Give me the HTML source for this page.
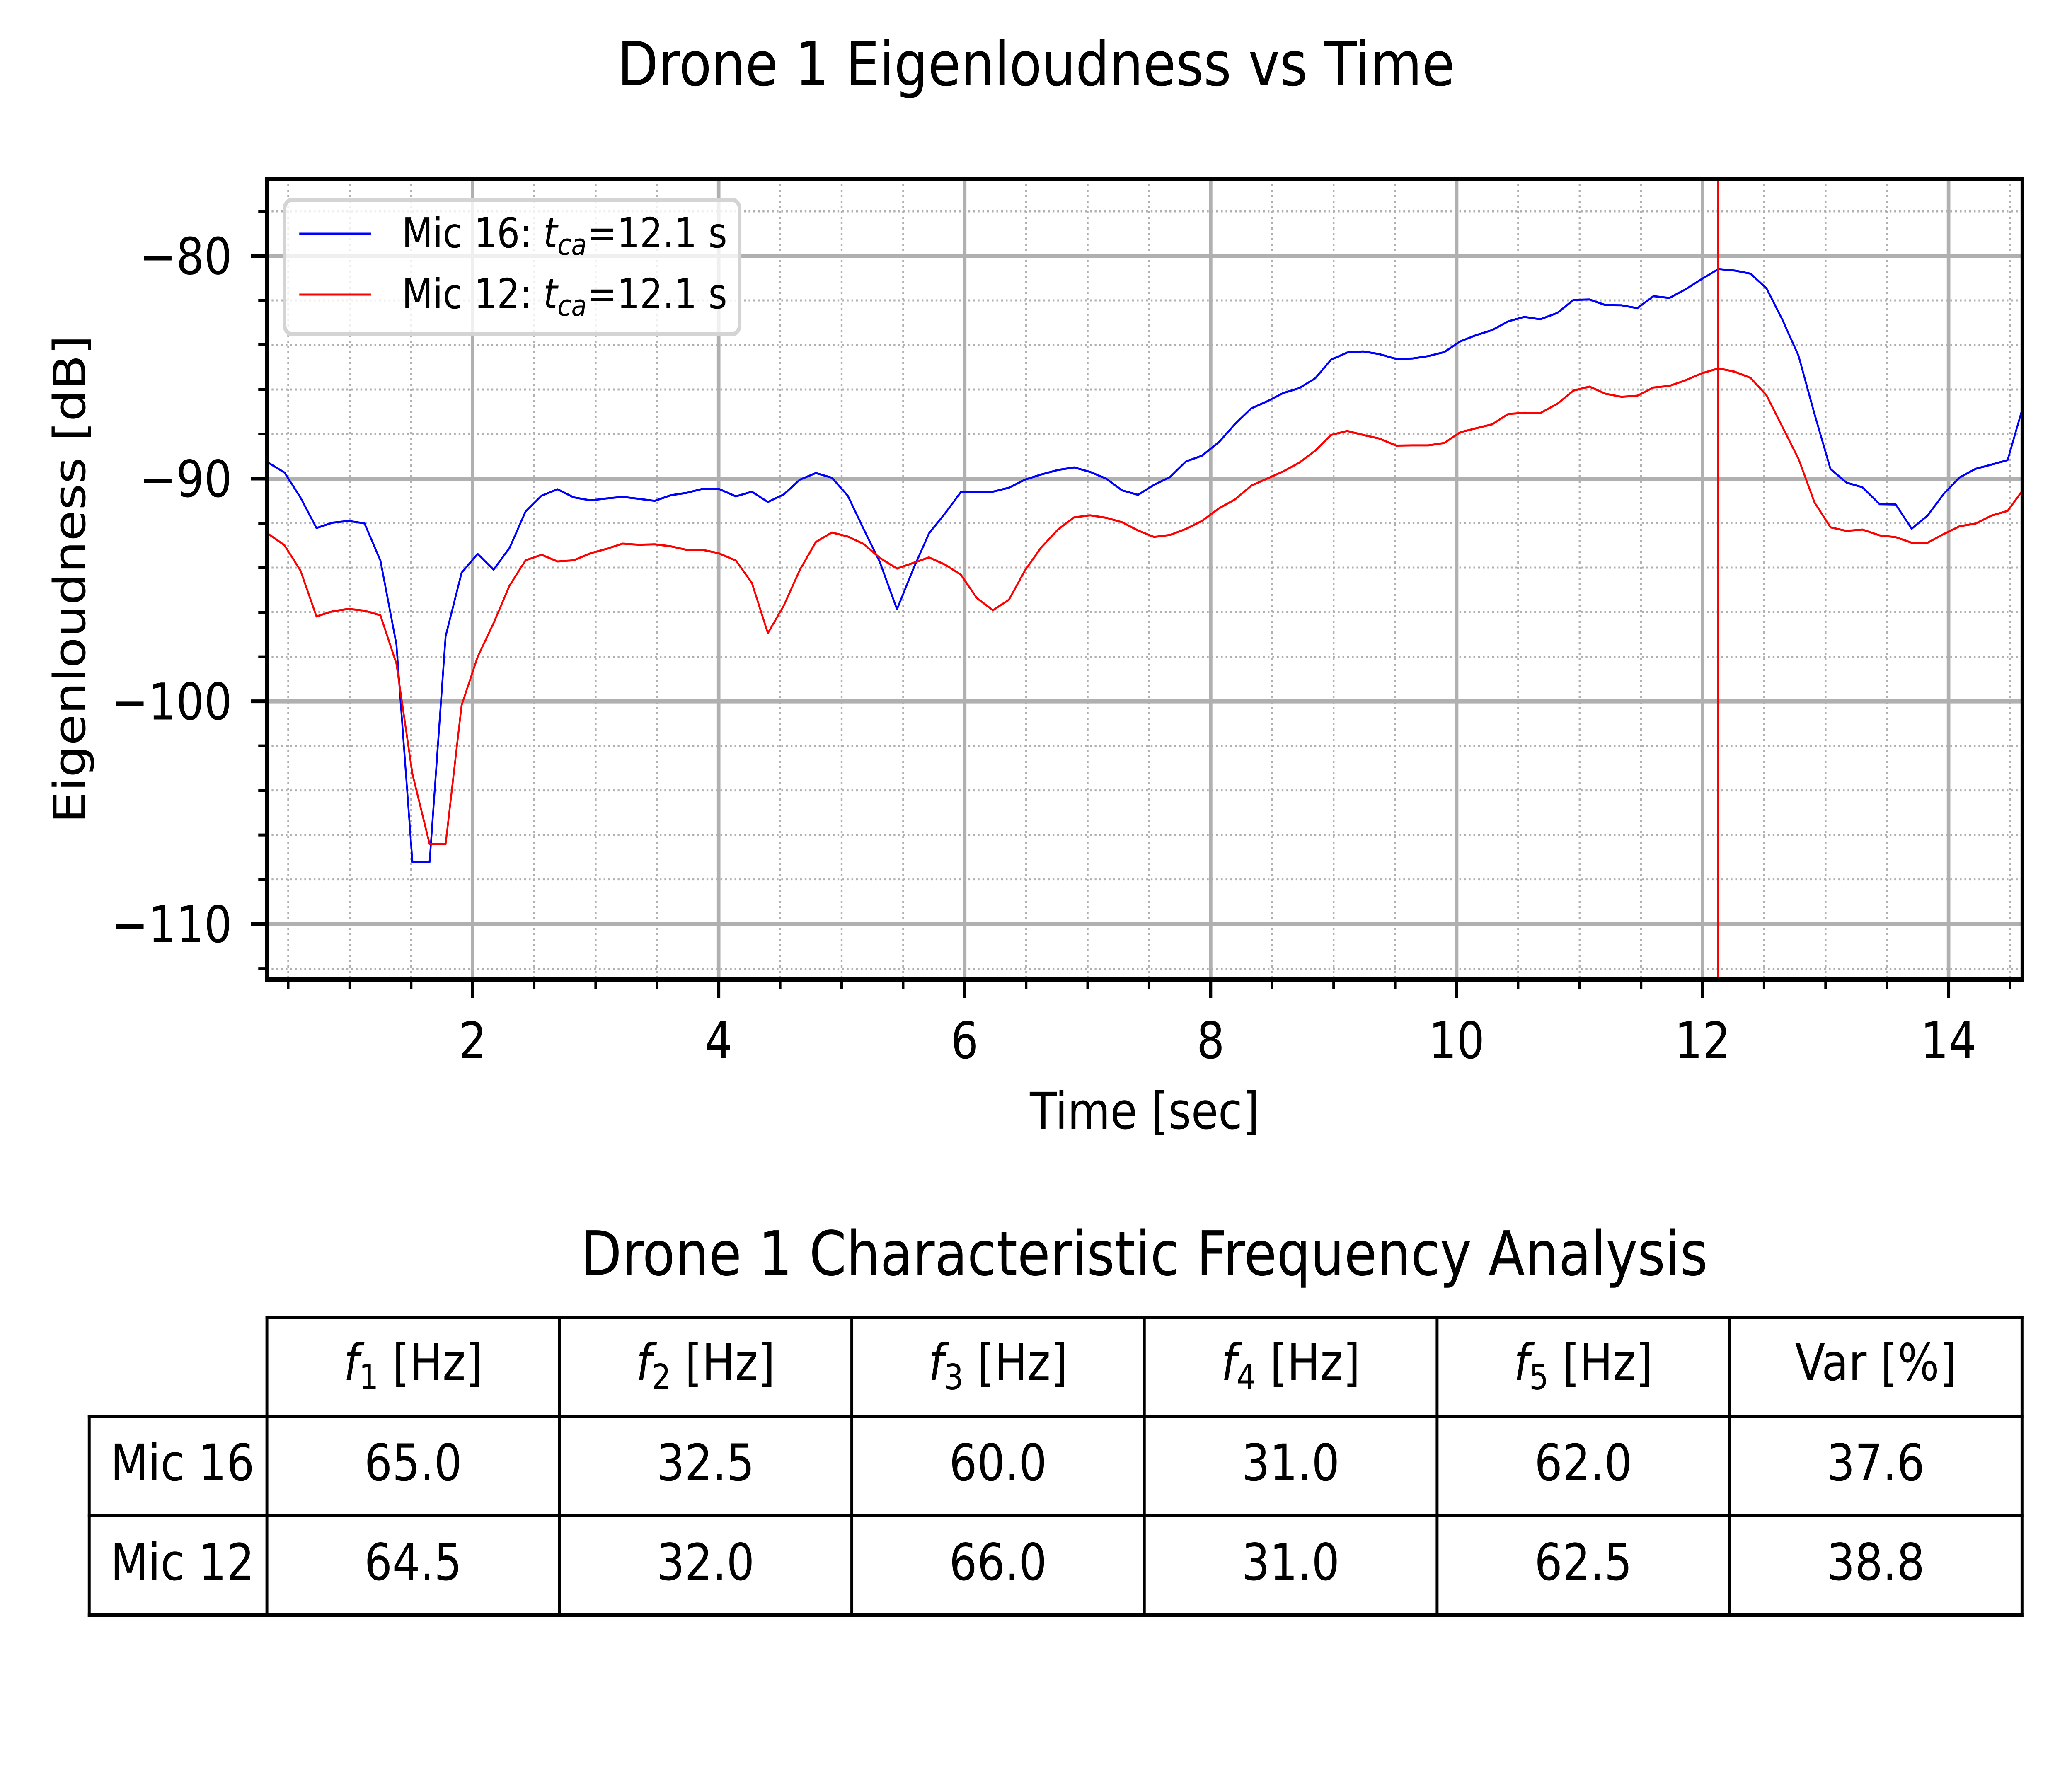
<!DOCTYPE html>
<html><head><meta charset="utf-8"><style>
html,body{margin:0;padding:0;background:#fff;width:100%;height:100%;overflow:hidden;}
svg{display:block;width:100vw;height:100vh;}
text{font-family:"DejaVu Sans","Liberation Sans",sans-serif;fill:#000;}
</style></head>
<body>
<svg id="fig" xmlns="http://www.w3.org/2000/svg" viewBox="0 0 5760 4320" preserveAspectRatio="none">
<rect x="0" y="0" width="5760" height="4320" fill="#fff"/>
<text x="2880" y="206" font-size="148" text-anchor="middle">Drone 1 Eigenloudness vs Time</text>
<defs><clipPath id="plotclip"><rect x="742" y="432" width="4880" height="1932"/></clipPath></defs>
<g id="grid"></g>
<g id="series" clip-path="url(#plotclip)"></g>
<g id="axes"></g>
<g id="legend">
  <rect x="791" y="482" width="1265" height="325" rx="22" fill="#fff" fill-opacity="0.8" stroke="#d4d4d4" stroke-width="10"/>
  <line x1="832" y1="564" x2="1031" y2="564" stroke="#0000ff" stroke-width="5"/>
  <text x="1117" y="597" font-size="100">Mic 16: <tspan font-style="italic">t</tspan><tspan font-style="italic" font-size="70" dy="18">ca</tspan><tspan dy="-18">=12.1 s</tspan></text>
  <line x1="832" y1="711" x2="1031" y2="711" stroke="#ff0000" stroke-width="5"/>
  <text x="1117" y="744" font-size="100">Mic 12: <tspan font-style="italic">t</tspan><tspan font-style="italic" font-size="70" dy="18">ca</tspan><tspan dy="-18">=12.1 s</tspan></text>
</g>
<text x="3182" y="2724" font-size="122" text-anchor="middle">Time [sec]</text>
<text x="0" y="0" font-size="122" text-anchor="middle" transform="translate(236,1398) rotate(-90)">Eigenloudness [dB]</text>

<text x="3181" y="3077" font-size="148" text-anchor="middle">Drone 1 Characteristic Frequency Analysis</text>
<g id="table"></g>
</svg>
<script>
// ---- chart data ----
const times = [0.34,0.47,0.60,0.73,0.86,0.99,1.12,1.25,1.38,1.51,
1.65,1.78,1.91,2.04,2.17,2.30,2.43,2.56,2.69,2.82,
2.96,3.09,3.22,3.35,3.48,3.61,3.74,3.87,4.00,4.14,
4.27,4.40,4.53,4.66,4.79,4.92,5.05,5.18,5.31,5.45,
5.58,5.71,5.84,5.97,6.10,6.23,6.36,6.49,6.62,6.76,
6.89,7.02,7.15,7.28,7.41,7.54,7.67,7.80,7.93,8.07,
8.20,8.33,8.46,8.59,8.72,8.85,8.98,9.11,9.24,9.37,
9.51,9.64,9.77,9.90,10.03,10.16,10.29,10.42,10.55,10.68,
10.82,10.95,11.08,11.21,11.34,11.47,11.60,11.73,11.86,11.99,
12.13,12.26,12.39,12.52,12.65,12.78,12.91,13.04,13.17,13.30,
13.44,13.57,13.70,13.83,13.96,14.09,14.22,14.35,14.48,14.61];
const mic16 = [-89.29,-89.73,-90.85,-92.22,-91.98,-91.90,-92.01,-93.68,-97.44,-107.21,
-107.21,-97.08,-94.23,-93.38,-94.09,-93.11,-91.48,-90.77,-90.48,-90.84,
-90.98,-90.89,-90.82,-90.91,-91.0,-90.75,-90.64,-90.46,-90.46,-90.80,
-90.59,-91.05,-90.71,-90.05,
-89.75,-89.96,-90.77,-92.28,-93.74,-95.87,-94.09,-92.46,-91.57,-90.60,
-90.60,-90.59,-90.41,-90.05,-89.82,-89.61,-89.50,-89.70,-90.0,-90.53,
-90.73,-90.28,-89.93,-89.23,-88.97,-88.35,-87.54,-86.85,-86.53,-86.16,
-85.94,-85.50,-84.66,
-84.34,-84.29,-84.41,-84.63,-84.61,-84.50,-84.32,-83.84,-83.56,-83.33,
-82.94,-82.74,-82.85,-82.56,-81.98,-81.96,-82.21,-82.22,-82.35,-81.81,
-81.89,-81.51,-81.05,-80.59,-80.66,-80.80,-81.46,-82.88,-84.48,-87.1,
-89.57,-90.18,
-90.39,-91.15,-91.16,-92.25,-91.66,-90.69,-89.95,-89.56,-89.37,-89.17,-86.68];
const mic12 = [-92.49,-92.99,-94.13,-96.19,-95.96,-95.85,-95.93,-96.14,-98.31,-103.26,
-106.41,-106.41,-100.18,-98.01,-96.49,-94.80,-93.67,-93.42,-93.72,-93.67,
-93.35,-93.15,-92.92,-92.97,-92.95,-93.04,-93.20,-93.20,-93.35,-93.68,
-94.68,-96.94,-95.70,-94.1,
-92.85,-92.42,-92.60,-92.94,-93.56,-94.04,-93.79,-93.54,-93.86,-94.32,
-95.37,-95.91,-95.44,-94.13,-93.11,-92.28,-91.74,-91.65,-91.76,-91.96,
-92.33,-92.62,-92.53,-92.26,-91.90,-91.33,-90.93,-90.32,-90.0,-89.68,
-89.29,-88.75,-88.04,
-87.86,-88.04,-88.20,-88.52,-88.51,-88.51,-88.40,-87.92,-87.74,-87.56,
-87.10,-87.05,-87.06,-86.64,-86.05,-85.87,-86.19,-86.33,-86.28,-85.91,
-85.84,-85.59,-85.28,-85.05,-85.20,-85.48,-86.26,-87.69,-89.11,-91.07,
-92.19,-92.35,
-92.29,-92.55,-92.63,-92.88,-92.88,-92.49,-92.14,-92.02,-91.66,-91.45,-90.47];
const tca = [12.124];
const xTicks = [2,4,6,8,10,12,14];
const yTicks = [-80,-90,-100,-110];
const xMinor = [0.5,1,1.5,2.5,3,3.5,4.5,5,5.5,6.5,7,7.5,8.5,9,9.5,10.5,11,11.5,12.5,13,13.5,14.5];
const yMinor = [-78,-82,-84,-86,-88,-92,-94,-96,-98,-102,-104,-106,-108,-112];
// table data
const colHeads = ["1","2","3","4","5"];
const rowLabels = ["Mic 16","Mic 12"];
const tableVals = [["65.0","32.5","60.0","31.0","62.0","37.6"],["64.5","32.0","66.0","31.0","62.5","38.8"]];

const NS="http://www.w3.org/2000/svg";
const L=742,R=5622,T=432,B=2364;
const xmin=0.327,xmax=14.6,ymin=-112.49,ymax=-76.55;
function X(t){return L+(t-xmin)/(xmax-xmin)*(R-L);}
function Y(v){return B-(v-ymin)/(ymax-ymin)*(B-T);}
function mk(tag,attrs,parent){const e=document.createElementNS(NS,tag);for(const k in attrs)e.setAttribute(k,attrs[k]);parent.appendChild(e);return e;}

const grid=document.getElementById('grid');
xMinor.forEach(t=>{if(t<xmin||t>xmax)return;
 const e=mk('line',{x1:X(t),x2:X(t),y1:T,y2:B,stroke:'#b0b0b0','stroke-width':5,'stroke-dasharray':'5 8'},grid);
 
 });
yMinor.forEach(v=>{if(v<ymin||v>ymax)return;
 const e=mk('line',{x1:L,x2:R,y1:Y(v),y2:Y(v),stroke:'#b0b0b0','stroke-width':5,'stroke-dasharray':'5 8'},grid);
 
 });
xTicks.forEach(t=>{
 const e=mk('line',{x1:X(t),x2:X(t),y1:T,y2:B,stroke:'#b0b0b0','stroke-width':10},grid);
 
 });
yTicks.forEach(v=>{
 const e=mk('line',{x1:L,x2:R,y1:Y(v),y2:Y(v),stroke:'#b0b0b0','stroke-width':10},grid);
 
 });

const ser=document.getElementById('series');
function linePath(vals,color,name){
 const d=vals.map((v,i)=>(i?'L':'M')+X(times[i]).toFixed(1)+','+Y(v).toFixed(1)).join(' ');
 const p=mk('path',{d:d,fill:'none',stroke:color,'stroke-width':5,'stroke-linejoin':'round'},ser);
 
 
}
linePath(mic16,'#0000ff','mic16-line');
linePath(mic12,'#ff0000','mic12-line');
tca.forEach(t=>{
 const e=mk('line',{x1:X(t),x2:X(t),y1:T,y2:B,stroke:'#ff0000','stroke-width':5},ser);
 
 });

const ax=document.getElementById('axes');
const sp=mk('rect',{x:L,y:T,width:R-L,height:B-T,fill:'none',stroke:'#000','stroke-width':10},ax);


xMinor.forEach(t=>{if(t<xmin||t>xmax)return;
 const e=mk('line',{x1:X(t),x2:X(t),y1:B,y2:B+24,stroke:'#000','stroke-width':7},ax);
 
 });
yMinor.forEach(v=>{if(v<ymin||v>ymax)return;
 const e=mk('line',{x1:L,x2:L-24,y1:Y(v),y2:Y(v),stroke:'#000','stroke-width':7},ax);
 
 });
xTicks.forEach(t=>{
 const e=mk('line',{x1:X(t),x2:X(t),y1:B,y2:B+44,stroke:'#000','stroke-width':9},ax);
 
 
 const tx=mk('text',{x:X(t),y:2554,'font-size':122,'text-anchor':'middle'},ax);
 tx.textContent=String(t);
 
 });
yTicks.forEach(v=>{
 const e=mk('line',{x1:L,x2:L-44,y1:Y(v),y2:Y(v),stroke:'#000','stroke-width':9},ax);
 
 
 const tx=mk('text',{x:645,y:Y(v)+44,'font-size':122,'text-anchor':'end'},ax);
 tx.textContent='\u2212'+String(Math.abs(v));
 
 });

// table
const tb=document.getElementById('table');
const cols=[742,1555,2368,3181,3995,4808,5621];
const rows=[3179,3419,3658,3898];
const rowX0=248;
function ln(x1,y1,x2,y2){const e=mk('line',{x1:x1,y1:y1,x2:x2,y2:y2,stroke:'#000','stroke-width':8,'stroke-linecap':'square'},tb);
 
 }
ln(cols[0],rows[0],cols[6],rows[0]);
ln(rowX0,rows[1],cols[6],rows[1]);
ln(rowX0,rows[2],cols[6],rows[2]);
ln(rowX0,rows[3],cols[6],rows[3]);
ln(rowX0,rows[1],rowX0,rows[3]);
cols.forEach(c=>ln(c,rows[0],c,rows[3]));
for(let j=0;j<6;j++){
 const cx=(cols[j]+cols[j+1])/2;
 const t=mk('text',{x:cx,y:3331,'font-size':122,'text-anchor':'middle'},tb);
 if(j<5){
  t.innerHTML='<tspan font-style="italic">f</tspan><tspan font-size="85" dy="22">'+colHeads[j]+'</tspan><tspan dy="-22"> [Hz]</tspan>';
 } else t.textContent='Var [%]';
 
 
}
const bases=[3573,3813];
rowLabels.forEach((lab,i)=>{
 const t=mk('text',{x:307,y:bases[i],'font-size':122},tb);
 t.textContent=lab;
 
 
 tableVals[i].forEach((v,j)=>{
  const c=mk('text',{x:(cols[j]+cols[j+1])/2,y:bases[i],'font-size':122,'text-anchor':'middle'},tb);
  c.textContent=v;
  
  
 });
});
</script>
</body></html>
